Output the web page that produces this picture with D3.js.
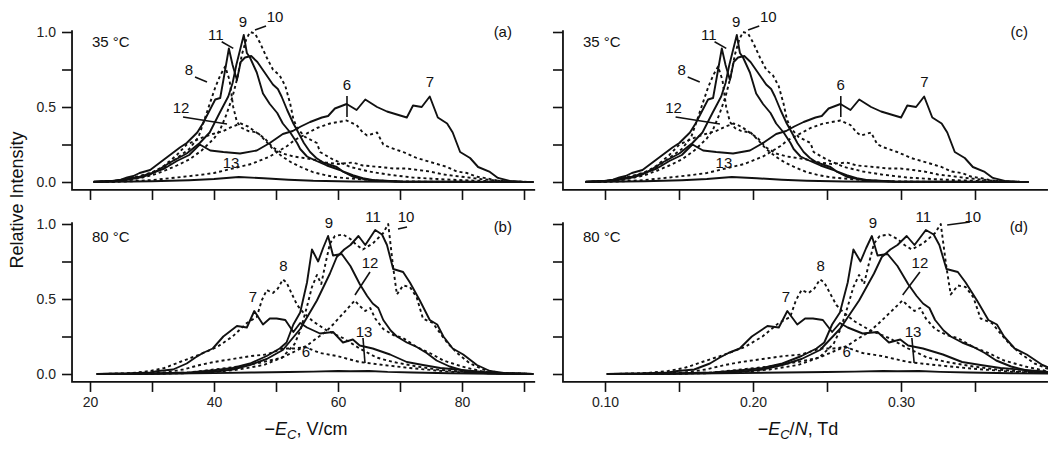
<!DOCTYPE html>
<html>
<head>
<meta charset="utf-8">
<script src="https://cdn.jsdelivr.net/npm/d3@7"></script>
<style>
  body { margin: 0; background: #fff; }
  svg { font-family: "Liberation Sans", Arial, sans-serif; }
</style>
</head>
<body>
<div id="vis"></div>
<script>
// ion series, [E (V/cm), relative intensity]
// 35 °C
const s35_6 = [[20.6,0],[26,0.003],[30,0.013],[34,0.03],[37.7,0.047],[40,0.06],[43,0.09],[46,0.12],[49,0.17],[51.8,0.24],[53,0.28],[54.4,0.31],[56.6,0.36],[58.7,0.39],[61.4,0.41],[63,0.38],[64,0.33],[64.7,0.31],[66.3,0.33],[67.3,0.25],[68.4,0.23],[70.5,0.2],[72.7,0.16],[76,0.12],[77.6,0.1],[79.2,0.07],[80.8,0.06],[82.4,0.035],[84,0.025],[85.6,0.01],[88,0.003],[91.5,0]];
const s35_7 = [[20.6,0.003],[24,0.008],[26,0.02],[28,0.035],[30,0.06],[32,0.09],[34,0.14],[36,0.18],[37.7,0.25],[39.4,0.21],[41.5,0.2],[44.2,0.19],[46.9,0.21],[49,0.26],[51.1,0.32],[52.7,0.34],[54,0.37],[55.5,0.4],[57.4,0.43],[58.4,0.44],[59.5,0.49],[61.4,0.52],[63,0.48],[64.4,0.55],[66.3,0.5],[67.9,0.47],[71.1,0.43],[72.1,0.51],[73.5,0.5],[74.8,0.57],[76.1,0.43],[77.6,0.39],[78.5,0.33],[79.7,0.2],[81.3,0.16],[82.6,0.1],[84.5,0.067],[85.8,0.027],[87.7,0.007],[89.5,0.002],[91.5,0]];
const s35_8 = [[20.6,0],[24,0.005],[26,0.02],[28,0.04],[30,0.065],[32,0.1],[34,0.16],[36,0.22],[37.5,0.3],[38.5,0.42],[39.3,0.52],[40.2,0.63],[41,0.71],[41.8,0.77],[42.5,0.68],[43.1,0.5],[43.7,0.4],[44.5,0.36],[45.5,0.34],[47,0.33],[48.2,0.28],[49.5,0.22],[51,0.17],[52.5,0.13],[54,0.1],[56,0.065],[58,0.045],[60,0.03],[63,0.02],[66,0.01],[70,0.004],[75,0.002],[91.5,0]];
const s35_9 = [[20.6,0],[24,0.005],[26,0.015],[28,0.03],[29.7,0.05],[31,0.08],[32.9,0.13],[35.6,0.19],[37.7,0.26],[39.3,0.33],[40.9,0.46],[42.3,0.57],[43,0.66],[43.6,0.78],[44.2,0.88],[44.8,0.98],[45.3,0.86],[45.8,0.83],[46.9,0.73],[47.9,0.59],[49,0.52],[50.2,0.46],[51.1,0.39],[52.3,0.33],[53.4,0.26],[53.9,0.22],[55,0.17],[56,0.15],[58.2,0.11],[60.3,0.08],[62.4,0.035],[65,0.013],[70,0.003],[91.5,0]];
const s35_10 = [[20.6,0],[24,0.004],[26,0.012],[28,0.025],[30,0.045],[32,0.075],[34,0.11],[36,0.15],[38,0.21],[40,0.29],[41,0.35],[42,0.45],[43,0.57],[43.8,0.7],[44.5,0.85],[45.2,0.95],[45.8,1.0],[46.6,0.99],[47.4,0.93],[48.5,0.83],[49.5,0.75],[50.6,0.71],[51.5,0.64],[52.3,0.52],[52.8,0.42],[53.4,0.36],[54.7,0.3],[56.6,0.26],[57.1,0.2],[59.2,0.15],[62,0.1],[65,0.07],[68,0.05],[72,0.03],[76,0.02],[80,0.012],[85,0.005],[91.5,0]];
const s35_11 = [[20.6,0],[23,0.004],[25,0.015],[26,0.03],[27,0.04],[28,0.06],[29.7,0.08],[31.3,0.13],[32.9,0.18],[34.5,0.23],[35.6,0.26],[37.3,0.33],[38.2,0.39],[39.2,0.47],[40.2,0.55],[41,0.56],[41.6,0.7],[42.4,0.89],[43,0.78],[43.7,0.68],[44.3,0.8],[45,0.83],[46,0.84],[47,0.8],[48,0.74],[49.5,0.65],[50.3,0.62],[50.9,0.57],[51.8,0.48],[52.8,0.39],[53.6,0.33],[54.5,0.26],[55.5,0.2],[56.5,0.16],[57.6,0.13],[59.8,0.1],[60.8,0.07],[62.4,0.045],[64,0.025],[66,0.01],[70,0.003],[91.5,0]];
const s35_12 = [[20.6,0],[24,0.005],[27,0.02],[30,0.06],[32,0.11],[34,0.18],[35.6,0.25],[37.7,0.29],[39.8,0.32],[41.5,0.34],[43,0.37],[44.3,0.39],[45.5,0.37],[46.5,0.34],[48.2,0.29],[49.5,0.23],[51.1,0.19],[52.8,0.17],[54.5,0.16],[56,0.15],[58,0.13],[60,0.12],[62.4,0.13],[64,0.11],[66.8,0.1],[69,0.09],[71,0.09],[73,0.08],[74.8,0.07],[77,0.05],[80,0.035],[83,0.02],[86,0.008],[89,0.002],[91.5,0]];
const s35_13 = [[20.6,0],[30,0.005],[36,0.012],[40,0.02],[44,0.033],[48,0.025],[52,0.015],[56,0.008],[62,0.003],[70,0.001],[91.5,0]];

// 80 °C
const s80_6 = [[21.1,0],[28,0.003],[32,0.01],[35,0.03],[37.7,0.06],[40,0.08],[43,0.1],[46,0.12],[48.5,0.13],[51.1,0.17],[53,0.17],[54.7,0.18],[57.1,0.14],[59.8,0.12],[63.5,0.08],[67.3,0.06],[71.6,0.04],[78,0.015],[84,0.005],[91.5,0]];
const s80_7 = [[21.1,0],[26,0.003],[29.7,0.01],[31,0.02],[33.4,0.03],[35.6,0.07],[37,0.11],[38.2,0.14],[39.8,0.17],[41.5,0.25],[43.7,0.32],[45.3,0.31],[46.5,0.42],[47.9,0.33],[49,0.37],[50.1,0.37],[51.5,0.36],[52.8,0.28],[53.9,0.34],[55,0.31],[57.1,0.27],[59.2,0.28],[60.8,0.21],[62.4,0.23],[63.5,0.19],[65.6,0.17],[68.4,0.13],[71.1,0.08],[73.7,0.06],[76.5,0.04],[79.2,0.03],[83,0.015],[86,0.005],[91.5,0]];
const s80_8 = [[21.1,0],[26,0.003],[29.7,0.02],[32,0.04],[34.5,0.08],[37.7,0.13],[40.5,0.18],[43,0.25],[45.3,0.34],[46.9,0.38],[47.7,0.49],[48.5,0.56],[49.5,0.54],[50.3,0.57],[51.1,0.63],[51.7,0.61],[52.6,0.53],[53.4,0.46],[54.4,0.41],[56,0.35],[58.2,0.29],[60.8,0.24],[63.5,0.17],[66.2,0.11],[68.9,0.08],[72.7,0.05],[76,0.03],[80,0.015],[85,0.004],[91.5,0]];
const s80_9 = [[21.1,0],[30,0.003],[36,0.01],[40,0.025],[43,0.04],[45.8,0.07],[48.5,0.12],[50.6,0.17],[51.7,0.21],[52.8,0.33],[53.9,0.41],[55,0.61],[55.8,0.83],[56.8,0.75],[57.6,0.84],[58.4,0.92],[59.2,0.79],[60.6,0.8],[62,0.72],[63.5,0.6],[64.7,0.52],[65.6,0.47],[66.5,0.44],[67.3,0.36],[68.5,0.29],[69.5,0.25],[71.1,0.21],[72.7,0.18],[74.3,0.14],[75.9,0.09],[78,0.05],[80.8,0.015],[84,0.004],[91.5,0]];
const s80_10 = [[21.1,0],[30,0.002],[36,0.006],[40,0.012],[44,0.03],[48,0.06],[51,0.11],[53,0.2],[54,0.3],[55,0.45],[55.8,0.58],[56.6,0.66],[57.3,0.6],[58,0.74],[58.7,0.87],[59.5,0.92],[60.8,0.93],[62,0.9],[63,0.86],[64,0.83],[65.6,0.87],[67.3,0.94],[68.1,1.0],[68.9,0.71],[69.5,0.53],[70.5,0.59],[71.6,0.58],[72.7,0.51],[73.7,0.37],[75.3,0.34],[76.5,0.27],[77.6,0.21],[79.2,0.14],[81.3,0.07],[83.4,0.03],[86,0.008],[91.5,0]];
const s80_11 = [[21.1,0],[30,0.002],[36,0.006],[40,0.015],[43,0.03],[45.8,0.06],[48.5,0.1],[51.1,0.16],[53.9,0.3],[56.6,0.49],[58.7,0.67],[59.8,0.78],[61,0.83],[62,0.86],[63.3,0.92],[64.4,0.86],[66,0.96],[67.1,0.93],[67.9,0.86],[68.9,0.7],[70.5,0.68],[71.6,0.61],[73.2,0.49],[74.8,0.36],[76,0.33],[77,0.25],[78.5,0.17],[80.2,0.13],[82.4,0.06],[84.5,0.02],[87,0.005],[91.5,0]];
const s80_12 = [[21.1,0],[30,0.003],[36,0.01],[40,0.03],[44,0.05],[48,0.08],[51,0.11],[53,0.15],[55,0.19],[56.6,0.24],[58,0.28],[59.2,0.33],[60.3,0.38],[61.4,0.43],[62.7,0.49],[63.6,0.45],[64.4,0.42],[65.2,0.44],[66,0.37],[67.3,0.3],[68.9,0.26],[70.5,0.24],[72.7,0.18],[74.8,0.14],[77,0.09],[80,0.05],[83.4,0.015],[86,0.005],[91.5,0]];
const s80_13 = [[21.1,0],[30,0.002],[40,0.006],[46,0.01],[52,0.013],[56,0.016],[60,0.02],[62,0.018],[65,0.02],[68,0.014],[72,0.01],[78,0.005],[85,0.002],[91.5,0]];

const ions = [6, 7, 8, 9, 10, 11, 12, 13];
const series35 = [s35_6, s35_7, s35_8, s35_9, s35_10, s35_11, s35_12, s35_13];
const series80 = [s80_6, s80_7, s80_8, s80_9, s80_10, s80_11, s80_12, s80_13];

// Td per V/cm at each temperature (E/N)
const tdPerV35 = 0.00422;
const tdPerV80 = 0.0048;

// ticks
const xTicksE = [20, 30, 40, 50, 60, 70, 80, 90];
const xLabelsE = [20, 40, 60, 80];
const xTicksTd = [0.10, 0.15, 0.20, 0.25, 0.30, 0.35];
const xLabelsTd = [0.10, 0.20, 0.30];
const yTicks = [0, 0.25, 0.5, 0.75, 1];
const yLabels = [0, 0.5, 1];

// ion number labels (E, intensity), optional leader line [e1, v1, e2, v2]
const labels35 = [
  {t: '11', e: 40.3, v: 0.947, lead: [41.24, 0.935, 43.11, 0.891]},
  {t: '9', e: 44.68, v: 1.033},
  {t: '10', e: 49.84, v: 1.067, lead: [46.61, 1.013, 48.39, 1.04]},
  {t: '8', e: 35.97, v: 0.713, lead: [36.94, 0.70, 38.87, 0.667]},
  {t: '12', e: 34.68, v: 0.46, lead: [35.0, 0.433, 42.1, 0.387]},
  {t: '13', e: 42.74, v: 0.093},
  {t: '6', e: 61.45, v: 0.613, lead: [61.45, 0.573, 61.45, 0.433]},
  {t: '7', e: 74.84, v: 0.633}
];
const labels80 = [
  {t: '7', e: 46.29, v: 0.48},
  {t: '8', e: 51.21, v: 0.69},
  {t: '9', e: 58.55, v: 0.973},
  {t: '11', e: 65.65, v: 1.013},
  {t: '10', e: 70.97, v: 1.013, lead: [69.68, 0.967, 71.13, 0.98],
    re: 72.6, rlead: [69.0, 0.993, 72.2, 1.013]},
  {t: '12', e: 65.16, v: 0.707, lead: [65.16, 0.68, 62.74, 0.527]},
  {t: '13', e: 64.19, v: 0.247, lead: [64.03, 0.24, 64.35, 0.073]},
  {t: '6', e: 54.84, v: 0.113}
];

// scales
const xE = d3.scaleLinear().domain([20, 90]).range([90, 524]);
const xTd = d3.scaleLinear().domain([0.10, 0.35]).range([605, 975]);
const yRows = [
  d3.scaleLinear().domain([0, 1]).range([182, 32]),
  d3.scaleLinear().domain([0, 1]).range([374, 224])
];
const yMin = -0.053;
const axisE = [17.1, 91.8];
const axisTd = [0.0716, 0.3993];

const panels = [
  {tag: '(a)', temp: '35 °C', data: series35, labels: labels35, k: 1, right: false, row: 0},
  {tag: '(b)', temp: '80 °C', data: series80, labels: labels80, k: 1, right: false, row: 1},
  {tag: '(c)', temp: '35 °C', data: series35, labels: labels35, k: tdPerV35, right: true, row: 0},
  {tag: '(d)', temp: '80 °C', data: series80, labels: labels80, k: tdPerV80, right: true, row: 1}
];

const $svg = d3.select('#vis').append('svg')
  .attr('width', 1050).attr('height', 449);

panels.forEach((p, pi) => {
  const x = p.right ? xTd : xE;
  const y = yRows[p.row];
  const ext = p.right ? axisTd : axisE;
  const $g = $svg.append('g').attr('class', 'panel');

  // clip
  const clipId = `clip-${pi}`;
  $svg.append('clipPath').attr('id', clipId)
    .append('rect')
    .attr('x', x(ext[0])).attr('width', x(ext[1]) - x(ext[0]))
    .attr('y', y(1.1)).attr('height', y(yMin) - y(1.1));

  // lines
  const line = d3.line()
    .x(d => x(d[0] * p.k))
    .y(d => y(d[1]));

  $g.append('g').attr('clip-path', `url(#${clipId})`)
    .selectAll('path')
    .data(p.data)
    .join('path')
    .attr('d', d => line(d))
    .attr('fill', 'none')
    .attr('stroke', '#111')
    .attr('stroke-width', 1.9)
    .attr('stroke-linejoin', 'round')
    .attr('stroke-dasharray', (d, i) => ions[i] % 2 === 0 ? '3,3' : null);

  // axes
  const yAxis = d3.axisLeft(y)
    .tickValues(yTicks)
    .tickSize(10)
    .tickPadding(6)
    .tickFormat(d => (!p.right && yLabels.includes(d)) ? d3.format('.1f')(d) : '');
  $g.append('g')
    .attr('transform', `translate(${x(ext[0])},0)`)
    .call(yAxis)
    .call(g => g.select('.domain').remove());

  const xAxis = d3.axisBottom(x)
    .tickValues(p.right ? xTicksTd : xTicksE)
    .tickSize(10)
    .tickPadding(5)
    .tickFormat(d => {
      if (p.row === 0) return '';
      if (p.right) return xLabelsTd.some(v => Math.abs(v - d) < 1e-9) ? d3.format('.2f')(d) : '';
      return xLabelsE.includes(d) ? d : '';
    });
  $g.append('g')
    .attr('transform', `translate(0,${y(yMin)})`)
    .call(xAxis)
    .call(g => g.select('.domain').remove());

  $g.selectAll('.tick line').attr('stroke', '#111').attr('stroke-width', 1.6);
  $g.selectAll('.tick text').attr('font-size', 14).attr('fill', '#222')
    .attr('font-family', '"Liberation Sans", Arial, sans-serif');

  // axis frame (L shape)
  $g.append('path')
    .attr('d', `M${x(ext[0])},${y(1.012)}V${y(yMin)}H${x(ext[1])}`)
    .attr('fill', 'none')
    .attr('stroke', '#111')
    .attr('stroke-width', 1.8);

  // ion labels
  p.labels.forEach(l => {
    const le = (p.right && l.re !== undefined) ? l.re : l.e;
    const lead = (p.right && l.rlead) ? l.rlead : l.lead;
    $g.append('text')
      .attr('x', x(le * p.k)).attr('y', y(l.v))
      .attr('text-anchor', 'middle')
      .attr('font-size', 15).attr('fill', '#111')
      .text(l.t);
    if (lead) {
      $g.append('line')
        .attr('x1', x(lead[0] * p.k)).attr('y1', y(lead[1]))
        .attr('x2', x(lead[2] * p.k)).attr('y2', y(lead[3]))
        .attr('stroke', '#111').attr('stroke-width', 1.6);
    }
  });

  // temperature and panel tag
  $g.append('text')
    .attr('x', p.right ? xTd(0.0851) : xE(20.32))
    .attr('y', y(p.row === 0 ? 0.9 : 0.882))
    .attr('font-size', 15).attr('fill', '#111')
    .text(p.temp);
  $g.append('text')
    .attr('x', p.right ? xTd(0.3858) : xE(88.06))
    .attr('y', y(p.row === 0 ? 0.967 : 0.945))
    .attr('text-anchor', 'end')
    .attr('font-size', 15).attr('fill', '#111')
    .text(p.tag);
});

// axis titles
const tLeft = $svg.append('text')
  .attr('x', 306).attr('y', 435)
  .attr('text-anchor', 'middle')
  .attr('font-size', 18).attr('fill', '#111');
tLeft.append('tspan').text('\u2212');
tLeft.append('tspan').attr('font-style', 'italic').text('E');
tLeft.append('tspan').attr('font-style', 'italic').attr('font-size', 13).attr('dy', 4).text('C');
tLeft.append('tspan').attr('dy', -4).text(', V/cm');

const tRight = $svg.append('text')
  .attr('x', 798).attr('y', 435)
  .attr('text-anchor', 'middle')
  .attr('font-size', 18).attr('fill', '#111');
tRight.append('tspan').text('\u2212');
tRight.append('tspan').attr('font-style', 'italic').text('E');
tRight.append('tspan').attr('font-style', 'italic').attr('font-size', 13).attr('dy', 4).text('C');
tRight.append('tspan').attr('dy', -4).text('/');
tRight.append('tspan').attr('font-style', 'italic').text('N');
tRight.append('tspan').text(', Td');

$svg.append('text')
  .attr('transform', 'translate(23,200) rotate(-90)')
  .attr('text-anchor', 'middle')
  .attr('font-size', 18).attr('fill', '#111')
  .text('Relative Intensity');
</script>
</body>
</html>
